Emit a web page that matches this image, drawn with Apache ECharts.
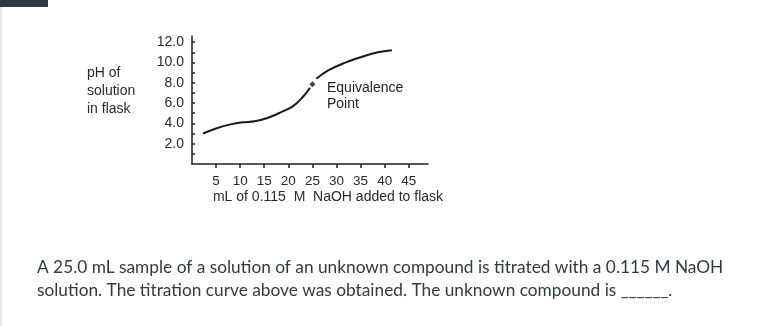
<!DOCTYPE html>
<html><head><meta charset="utf-8">
<script src="https://cdn.jsdelivr.net/npm/echarts@6/dist/echarts.min.js"></script>
<style>html,body{margin:0;padding:0;background:#fff;}#c{width:783px;height:326px;}</style>
</head><body><div id="c"></div>
<script>
// Data (mL NaOH, pH)
const beforeEq = [[2.3,3.0],[5,3.5],[8,3.9],[10.5,4.1],[13,4.2],[15.5,4.5],[18.5,5.1],[21,5.7],[23,6.6],[24.5,7.5]];
const afterEq = [[25.8,8.4],[28.2,9.2],[31.7,9.95],[35.3,10.55],[38.6,11.0],[41.5,11.2]];
const equivalence = [[25.0,7.85]];
const xTicks = [5,10,15,20,25,30,35,40,45];
const yTickLabels = ['2.0','4.0','6.0','8.0','10.0','12.0'];

const chart = echarts.init(document.getElementById('c'));
const axisColor = '#222';
const txt = '#2a2a2a';
const font = 'Liberation Sans, Arial';
chart.setOption({
  animation:false,
  backgroundColor:'#fff',
  grid:{left:192,right:355,top:36,bottom:162},
  xAxis:{type:'value',min:0,max:49,interval:5,
    axisLine:{show:true,onZero:false,lineStyle:{color:axisColor,width:1.5}},
    axisTick:{show:true,length:4,lineStyle:{color:axisColor,width:1.5},
      customValues: xTicks},
    axisLabel:{color:txt,fontSize:13.5,fontFamily:font,margin:10,
      customValues: xTicks, formatter:v=>String(v)},
    splitLine:{show:false},
    name:'mL of 0.115  M  NaOH added to flask',nameLocation:'middle',nameGap:26,
    nameTextStyle:{color:txt,fontSize:14,fontFamily:font,padding:[0,0,0,36]}
  },
  yAxis:{type:'value',min:0,max:12.6,interval:1,
    axisLine:{show:true,lineStyle:{color:axisColor,width:1.5}},
    axisTick:{show:true,inside:true,length:3,lineStyle:{color:axisColor,width:1.5},
      customValues:[1,2,3,4,5,6,7,8,9,10,11,12]},
    axisLabel:{color:txt,fontSize:14,fontFamily:font,margin:8,
      customValues: yTickLabels.map(Number),
      formatter:v=>yTickLabels.find(s=>Number(s)===v) || ''},
    splitLine:{show:false}
  },
  series:[
    {type:'line',data:beforeEq,smooth:0.4,showSymbol:false,lineStyle:{color:'#1a1a1a',width:2}},
    {type:'line',data:afterEq,smooth:0.4,showSymbol:false,lineStyle:{color:'#1a1a1a',width:2}},
    {type:'scatter',data:equivalence,symbol:'diamond',symbolSize:6,itemStyle:{color:'#111'}}
  ],
  graphic:[
    {type:'rect',shape:{x:0,y:0,width:48,height:7},style:{fill:'#2d3b45'}},
    {type:'rect',shape:{x:0,y:7,width:2,height:319},style:{fill:'#e6e6e6'}},
    {type:'text',left:87,top:64,style:{text:'pH of\nsolution\nin flask',fill:txt,font:'14px "Liberation Sans", Arial',lineHeight:18}},
    {type:'text',left:327,top:80,style:{text:'Equivalence\nPoint',fill:'#222',font:'14px "Liberation Sans", Arial',lineHeight:16}},
    {type:'text',left:37,top:256,style:{text:'A 25.0 mL sample of a solution of an unknown compound is titrated with a 0.115 M NaOH\nsolution. The titration curve above was obtained. The unknown compound is ______.',fill:'#2d3b45',font:'17.3px Lato',lineHeight:23}}
  ]
});
</script></body></html>
